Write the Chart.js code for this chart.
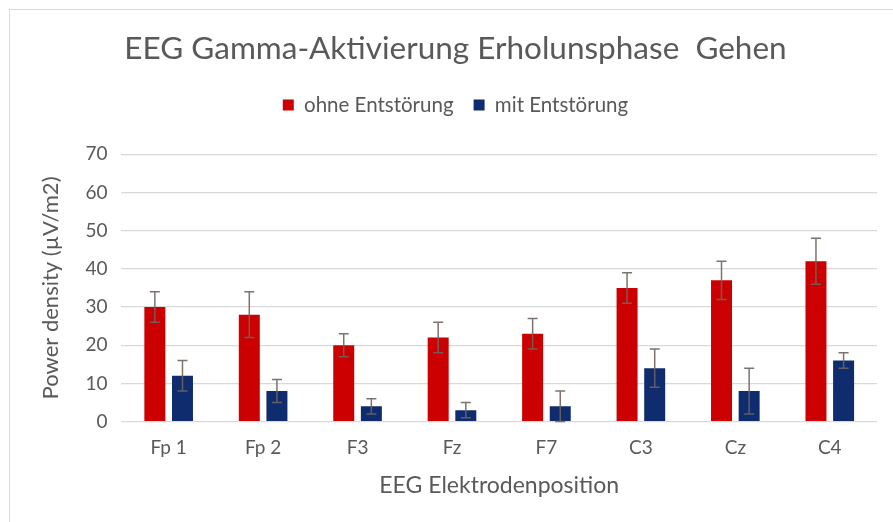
<!DOCTYPE html>
<html>
<head>
<meta charset="utf-8">
<script src="https://cdn.jsdelivr.net/npm/chart.js@4/dist/chart.umd.min.js"></script>
<style>
  body { margin: 0; background: #fff; }
  #wrap { position: relative; width: 893px; height: 522px; }
  #frame { position: absolute; left: 9px; top: 9px; width: 900px; height: 540px; border: 1px solid #d9d9d9; box-sizing: border-box; }
</style>
</head>
<body>
<div id="wrap">
  <div id="frame"></div>
  <canvas id="eegChart" width="893" height="522"></canvas>
</div>
<script>
// Electrode positions and gamma power values
const electrodes = ["Fp 1", "Fp 2", "F3", "Fz", "F7", "C3", "Cz", "C4"];
const ohneValues = [30, 28, 20, 22, 23, 35, 37, 42];
const ohneErrors = [4, 6, 3, 4, 4, 4, 5, 6];
const mitValues = [12, 8, 4, 3, 4, 14, 8, 16];
const mitErrors = [4, 3, 2, 2, 4, 5, 6, 2];
const yTicks = [0, 10, 20, 30, 40, 50, 60, 70];

const textColor = "#595959";
const fontFamily = "Lato, 'Open Sans', sans-serif";

// Draw error bars on top of each bar
const errorBars = {
  id: "errorBars",
  afterDatasetsDraw(chart) {
    const ctx = chart.ctx;
    const yScale = chart.scales.y;
    chart.data.datasets.forEach(function (ds, i) {
      const meta = chart.getDatasetMeta(i);
      meta.data.forEach(function (bar, j) {
        const v = ds.data[j];
        const e = ds.errors[j];
        const top = yScale.getPixelForValue(v + e);
        const bottom = yScale.getPixelForValue(v - e);
        ctx.save();
        ctx.strokeStyle = "rgba(110, 100, 95, 0.9)";
        ctx.lineWidth = 1.5;
        ctx.beginPath();
        ctx.moveTo(bar.x, top);
        ctx.lineTo(bar.x, bottom);
        ctx.moveTo(bar.x - 5, top);
        ctx.lineTo(bar.x + 5, top);
        ctx.moveTo(bar.x - 5, bottom);
        ctx.lineTo(bar.x + 5, bottom);
        ctx.stroke();
        ctx.restore();
      });
    });
  },
};

// Extra space between legend and plot area
const legendGap = {
  id: "legendGap",
  beforeInit(chart) {
    const fit = chart.legend.fit;
    chart.legend.fit = function () {
      fit.bind(chart.legend)();
      this.height += 29;
    };
  },
};

const ctx = document.getElementById("eegChart").getContext("2d");

const chart = new Chart(ctx, {
  type: "bar",
  data: {
    labels: electrodes,
    datasets: [
      {
        label: "ohne Entstörung",
        data: ohneValues,
        errors: ohneErrors,
        backgroundColor: "#cc0000",
        categoryPercentage: 0.585,
        barPercentage: 0.76,
      },
      {
        label: "mit Entstörung",
        data: mitValues,
        errors: mitErrors,
        backgroundColor: "#0f2c6e",
        categoryPercentage: 0.585,
        barPercentage: 0.76,
      },
    ],
  },
  options: {
    responsive: false,
    animation: false,
    layout: { padding: { left: 34, right: 16, top: 30, bottom: 19 } },
    plugins: {
      title: {
        display: true,
        text: "EEG Gamma-Aktivierung Erholunsphase  Gehen",
        color: textColor,
        font: { family: fontFamily, size: 31.5, weight: "normal" },
        padding: { top: 0, bottom: 7 },
      },
      legend: {
        labels: {
          color: textColor,
          font: { family: fontFamily, size: 20.5 },
          boxWidth: 11,
          boxHeight: 11,
          padding: 20,
        },
      },
      tooltip: { enabled: false },
    },
    scales: {
      x: {
        grid: { display: false },
        border: { display: false },
        ticks: {
          color: textColor,
          font: { family: fontFamily, size: 19 },
          padding: 7,
        },
        title: {
          display: true,
          text: "EEG Elektrodenposition",
          color: textColor,
          font: { family: fontFamily, size: 23 },
          padding: { top: 5 },
        },
      },
      y: {
        min: 0,
        max: 70,
        afterBuildTicks: function (scale) {
          scale.ticks = yTicks.map(function (v) { return { value: v }; });
        },
        grid: { color: "#d9d9d9", lineWidth: 1.2, drawTicks: false },
        border: { display: false },
        ticks: {
          color: textColor,
          font: { family: fontFamily, size: 19 },
          padding: 14,
        },
        title: {
          display: true,
          text: "Power density (µV/m2)",
          color: textColor,
          font: { family: fontFamily, size: 22 },
          padding: { bottom: 7 },
        },
      },
    },
  },
  plugins: [errorBars, legendGap],
});
</script>
</body>
</html>
